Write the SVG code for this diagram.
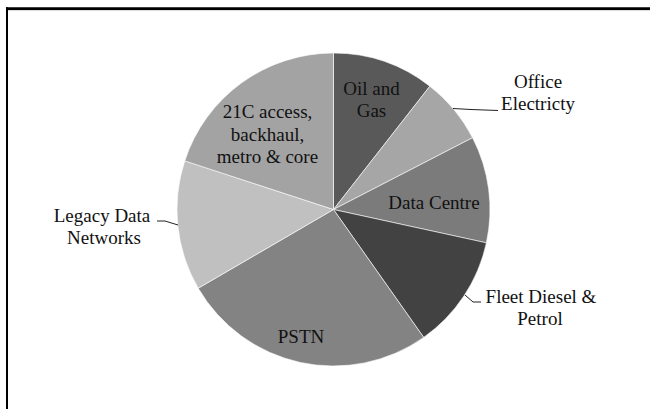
<svg xmlns="http://www.w3.org/2000/svg" width="650" height="409" viewBox="0 0 650 409">
  <style>
    .slice { stroke: #ffffff; stroke-width: 0.6; stroke-linejoin: round; }
    .lbl { font-family: "Liberation Serif", "Times New Roman", serif; font-size: 19px; fill: #111111; text-anchor: middle; }
    .lead { fill: none; stroke: #222222; stroke-width: 1; }
  </style>
  <rect x="0" y="0" width="650" height="409" fill="#ffffff"/>
  <!-- frame: top and left rules only -->
  <g id="frame">
    <line x1="6" y1="8.7" x2="650" y2="8.7" stroke="#000000" stroke-width="2.7"/>
    <line x1="8" y1="10.6" x2="650" y2="10.6" stroke="#d9d9d9" stroke-width="1"/>
    <line x1="7" y1="7.3" x2="7" y2="409" stroke="#000000" stroke-width="2"/>
  </g>

  <!-- pie: centre (333.5,209.5), radius 156.5, clockwise from 12 o'clock -->
  <g id="oil-and-gas">
    <path class="slice" fill="#595959" d="M333.5,209.5 L333.5,53 A156.5,156.5 0 0 1 429.86,86.18 Z"/>
    <text class="lbl" x="371.5" y="95">Oil and</text>
    <text class="lbl" x="371.5" y="117">Gas</text>
  </g>
  <g id="office-electricity">
    <path class="slice" fill="#a6a6a6" d="M333.5,209.5 L429.86,86.18 A156.5,156.5 0 0 1 472.57,137.73 Z"/>
    <text class="lbl" x="538" y="88">Office</text>
    <text class="lbl" x="538" y="110">Electricty</text>
  </g>
  <g id="data-centre">
    <path class="slice" fill="#7b7b7b" d="M333.5,209.5 L472.57,137.73 A156.5,156.5 0 0 1 486.40,242.84 Z"/>
    <text class="lbl" x="434" y="209">Data Centre</text>
  </g>
  <g id="fleet-diesel-petrol">
    <path class="slice" fill="#424242" d="M333.5,209.5 L486.40,242.84 A156.5,156.5 0 0 1 423.71,337.38 Z"/>
    <text class="lbl" x="541" y="303">Fleet Diesel &amp;</text>
    <text class="lbl" x="540" y="325">Petrol</text>
  </g>
  <g id="pstn">
    <path class="slice" fill="#838383" d="M333.5,209.5 L423.71,337.38 A156.5,156.5 0 0 1 198.23,288.22 Z"/>
    <text class="lbl" x="301" y="343">PSTN</text>
  </g>
  <g id="legacy-data-networks">
    <path class="slice" fill="#c0c0c0" d="M333.5,209.5 L198.23,288.22 A156.5,156.5 0 0 1 184.75,160.88 Z"/>
    <text class="lbl" x="102" y="222">Legacy Data</text>
    <text class="lbl" x="104" y="244">Networks</text>
  </g>
  <g id="21c-access">
    <path class="slice" fill="#a3a3a3" d="M333.5,209.5 L184.75,160.88 A156.5,156.5 0 0 1 333.5,53 Z"/>
    <text class="lbl" x="267.5" y="118">21C access,</text>
    <text class="lbl" x="267.5" y="141">backhaul,</text>
    <text class="lbl" x="267.5" y="163">metro &amp; core</text>
  </g>

  <!-- leader lines from outside labels to their slices -->
  <g id="connectors">
    <polyline class="lead" points="453,108.5 471,109.5 498,110.5"/>
    <polyline class="lead" points="465,295 473,302 481,302"/>
    <polyline class="lead" points="157,221 165,221 178,225"/>
  </g>
</svg>
